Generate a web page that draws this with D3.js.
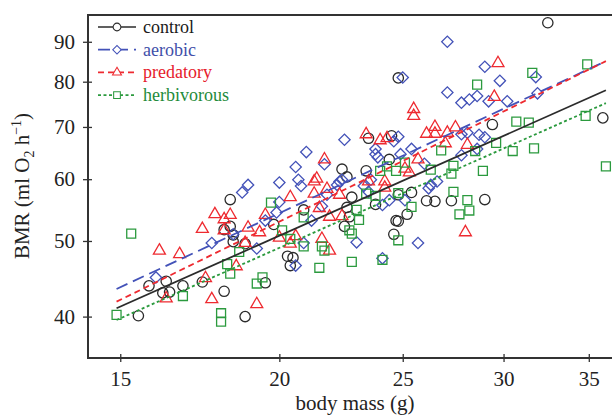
<!DOCTYPE html>
<html>
<head>
<meta charset="utf-8">
<script src="https://cdn.jsdelivr.net/npm/d3@7"></script>
<style>
  body { margin: 0; background: #fff; }
  svg, svg text { font-family: "Liberation Serif", "DejaVu Serif", serif; }
</style>
</head>
<body>
<div id="chart"></div>
<script>
// data: [body mass (g), BMR (ml O2/h)]
const control = [
  [15.5,40.1],[15.8,43.8],[16.2,42.9],[16.3,44.4],[16.4,43.0],[16.8,43.8],[17.4,44.3],[18.1,43.1],
  [18.3,56.5],[18.1,51.7],[18.3,52.2],[18.4,50.9],[18.4,49.9],[18.8,49.6],[18.8,40.0],[19.5,44.2],
  [19.8,52.5],[20.3,47.8],[20.5,47.6],[20.4,46.5],[20.9,54.8],[22.4,61.8],[22.6,60.4],[22.6,55.2],
  [22.5,52.2],[22.7,53.7],[22.8,56.9],[23.4,61.5],[23.5,67.7],[23.8,55.7],[24.5,68.2],[24.4,63.6],
  [24.6,51.0],[24.7,53.1],[24.8,53.0],[24.8,57.3],[24.8,80.9],[25.2,54.1],[25.4,57.7],[26.1,56.3],
  [26.5,56.2],[27.3,56.3],[29.0,56.5],[29.4,70.5],[32.5,95.2],[35.9,71.9]
];
const aerobic = [
  [16.0,44.9],[17.7,49.7],[18.7,57.7],[18.9,59.0],[18.4,51.0],[19.2,48.9],[19.5,53.1],[19.9,54.4],
  [20.0,59.4],[20.0,56.1],[20.6,62.2],[20.7,59.9],[20.8,58.8],[21.0,65.0],[20.6,46.5],[20.9,49.7],
  [21.2,53.1],[21.7,62.7],[21.8,57.3],[21.6,55.4],[22.2,59.0],[22.3,59.6],[22.5,67.4],[22.4,59.9],
  [23.0,49.8],[23.6,59.9],[23.5,57.8],[23.8,65.6],[23.8,64.6],[23.9,64.0],[24.1,55.6],[24.4,56.4],
  [24.6,67.1],[24.8,68.0],[24.9,64.6],[25.0,81.0],[25.1,56.4],[25.4,65.6],[25.7,49.7],[26.0,62.8],
  [26.2,58.4],[26.3,59.0],[26.6,59.6],[24.1,47.5],[27.1,90.0],[27.1,77.5],[27.8,75.2],[28.2,75.9],
  [28.6,76.7],[29.0,83.6],[29.2,75.5],[29.8,80.2],[30.2,75.5],[31.8,81.1],[31.9,77.3],[27.8,64.4],
  [28.1,68.8],[28.7,68.4],[29.0,67.9],[28.6,65.6],[27.8,68.5],[23.3,58.8]
];
const predatory = [
  [16.1,48.6],[16.7,48.1],[16.3,42.2],[17.4,51.8],[17.5,44.8],[17.7,42.1],[17.8,54.1],[18.1,53.3],
  [18.3,54.0],[18.1,51.6],[18.5,46.4],[18.9,52.0],[18.8,49.7],[19.2,41.5],[19.3,51.3],[19.5,54.0],
  [20.0,50.5],[20.4,56.9],[20.4,49.6],[20.6,50.7],[21.3,59.6],[21.4,60.1],[21.3,57.5],[21.5,55.1],
  [21.6,50.3],[21.7,63.6],[21.8,58.3],[21.9,53.7],[21.9,48.6],[22.3,57.3],[22.4,53.8],[23.4,68.5],
  [23.5,59.6],[24.0,67.3],[24.3,67.7],[24.2,59.6],[24.2,58.5],[25.1,61.9],[25.3,61.2],[25.5,73.8],
  [25.5,72.3],[25.7,63.6],[26.1,68.6],[26.5,70.0],[26.5,68.6],[27.0,66.7],[27.5,69.9],[28.1,66.4],
  [28.0,51.3],[29.5,76.5],[29.7,84.5],[27.1,68.8]
];
const herbivorous = [
  [14.9,40.2],[15.3,51.1],[16.8,42.5],[18.0,40.4],[18.0,39.4],[18.2,46.7],[18.3,45.4],[18.6,48.4],
  [19.2,44.1],[19.4,44.9],[19.7,56.0],[20.1,51.6],[20.4,50.3],[20.9,53.6],[20.9,49.2],[21.5,46.2],
  [21.6,49.2],[21.7,48.6],[22.7,51.6],[22.8,51.1],[22.8,47.0],[23.0,54.8],[23.1,53.2],[23.4,57.5],
  [23.8,57.1],[24.1,47.3],[24.0,61.5],[24.3,62.3],[24.7,61.5],[24.8,57.6],[24.8,50.1],[25.1,63.0],
  [25.4,55.3],[26.3,61.7],[26.8,65.3],[27.3,61.0],[27.4,62.4],[27.4,57.8],[27.7,54.1],[28.1,56.4],
  [28.2,54.7],[28.5,65.2],[28.6,79.3],[28.9,61.5],[29.6,66.8],[30.5,65.2],[30.7,71.1],[31.4,70.9],
  [31.7,65.7],[31.6,82.1],[34.8,72.3],[34.9,84.2],[36.1,62.3]
];
// fitted lines (start, end)
const fitControl = [[14.9,41.0],[36.1,78.0]];
const fitAerobic = [[14.9,43.4],[36.1,85.0]];
const fitPredatory = [[14.9,41.8],[36.1,85.0]];
const fitHerbivorous = [[14.9,39.6],[36.1,75.1]];

const xTicks = [15, 20, 25, 30, 35];
const yTicks = [40, 50, 60, 70, 80, 90];

const W = 612, H = 417;
const margin = {top: 15, right: 0, bottom: 59, left: 88};
const serif = "'Liberation Serif', 'DejaVu Serif', serif";

const svg = d3.select("#chart").append("svg")
  .attr("width", W).attr("height", H)
  .attr("font-family", serif);

const x = d3.scaleLog().domain([14.15, 36.5]).range([margin.left, W - margin.right]);
const y = d3.scaleLog().domain([35.4, 97.4]).range([H - margin.bottom, margin.top]);

const groups = [
  {name: "control", data: control, fit: fitControl, shape: "circle", color: "#2b2b2b", text: "#1a1a1a", dash: null},
  {name: "aerobic", data: aerobic, fit: fitAerobic, shape: "diamond", color: "#4352b8", text: "#3f4fa9", dash: "12,6"},
  {name: "predatory", data: predatory, fit: fitPredatory, shape: "triangle", color: "#ee2a30", text: "#e6202b", dash: "6,4"},
  {name: "herbivorous", data: herbivorous, fit: fitHerbivorous, shape: "square", color: "#2b9a3e", text: "#1f8b3a", dash: "3,2.5"}
];

function shapePath(shape) {
  if (shape === "circle") return d3.symbol(d3.symbolCircle, 84)();
  if (shape === "square") return d3.symbol(d3.symbolSquare, 80)();
  if (shape === "diamond") return d3.symbol(d3.symbolSquare, 64)();
  return d3.symbol(d3.symbolTriangle, 62)();
}

// clip to the plot box
svg.append("clipPath").attr("id", "clip")
  .append("rect")
  .attr("x", margin.left).attr("y", margin.top)
  .attr("width", W - margin.left + 10).attr("height", H - margin.top - margin.bottom);

const plot = svg.append("g").attr("clip-path", "url(#clip)");

// points
groups.forEach(g => {
  plot.append("g")
    .selectAll("path")
    .data(g.data)
    .join("path")
      .attr("d", shapePath(g.shape))
      .attr("transform", d => `translate(${x(d[0])},${y(d[1])})` + (g.shape === "diamond" ? " rotate(45)" : ""))
      .attr("fill", "none")
      .attr("stroke", g.color)
      .attr("stroke-width", 1.3);
});

// fit lines
const line = d3.line().x(d => x(d[0])).y(d => y(d[1]));
groups.forEach(g => {
  plot.append("path")
    .datum(g.fit)
    .attr("d", line)
    .attr("fill", "none")
    .attr("stroke", g.color)
    .attr("stroke-width", 1.8)
    .attr("stroke-dasharray", g.dash);
});

// frame
svg.append("rect")
  .attr("x", margin.left).attr("y", margin.top)
  .attr("width", W - margin.left + 10).attr("height", H - margin.top - margin.bottom)
  .attr("fill", "none").attr("stroke", "#333").attr("stroke-width", 2);

// axes
const xAxis = svg.append("g")
  .attr("transform", `translate(0,${H - margin.bottom})`)
  .call(d3.axisBottom(x).tickValues(xTicks).tickFormat(d3.format("d")).tickSize(4).tickPadding(9));
xAxis.attr("font-family", serif).attr("font-size", 21);
xAxis.select(".domain").remove();
xAxis.selectAll(".tick line").attr("y1", -4).attr("y2", 4).attr("stroke", "#333").attr("stroke-width", 1.3);
xAxis.selectAll(".tick text").attr("fill", "#222");

const yAxis = svg.append("g")
  .attr("transform", `translate(${margin.left},0)`)
  .call(d3.axisLeft(y).tickValues(yTicks).tickFormat(d3.format("d")).tickSize(4).tickPadding(9));
yAxis.attr("font-family", serif).attr("font-size", 21);
yAxis.select(".domain").remove();
yAxis.selectAll(".tick line").attr("x1", -5).attr("x2", 4).attr("stroke", "#333").attr("stroke-width", 1.3);
yAxis.selectAll(".tick text").attr("fill", "#222");

// axis titles
svg.append("text")
  .attr("x", 355).attr("y", 410)
  .attr("text-anchor", "middle")
  .attr("font-size", 21).attr("fill", "#222")
  .text("body mass (g)");

const yt = svg.append("text")
  .attr("transform", "translate(29,186) rotate(-90)")
  .attr("text-anchor", "middle")
  .attr("font-size", 21).attr("fill", "#222");
yt.append("tspan").text("BMR (ml O");
yt.append("tspan").attr("dy", 5).attr("font-size", 14).text("2");
yt.append("tspan").attr("dy", -5).text(" h");
yt.append("tspan").attr("dy", -8).attr("font-size", 14).text("\u22121");
yt.append("tspan").attr("dy", 8).text(")");

// legend
const legend = svg.append("g");
groups.forEach((g, i) => {
  const ly = 27 + i * 22.7;
  const row = legend.append("g").attr("transform", `translate(0,${ly})`);
  row.append("line")
    .attr("x1", 98).attr("x2", 136).attr("y1", 0).attr("y2", 0)
    .attr("stroke", g.color).attr("stroke-width", 1.7)
    .attr("stroke-dasharray", g.dash);
  row.append("path")
    .attr("d", shapePath(g.shape))
    .attr("transform", "translate(117,0)" + (g.shape === "diamond" ? " rotate(45)" : "") + " scale(0.75)")
    .attr("fill", "#fff").attr("stroke", g.color).attr("stroke-width", 1.4);
  row.append("text")
    .attr("x", 143).attr("y", 6)
    .attr("font-size", 18).attr("fill", g.text)
    .text(g.name);
});
</script>
</body>
</html>
